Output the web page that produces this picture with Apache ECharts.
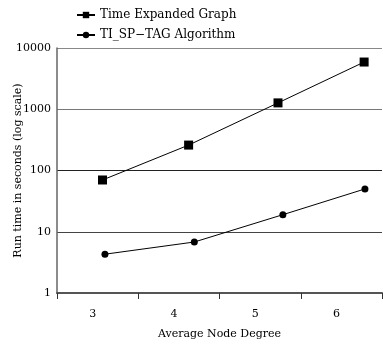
<!DOCTYPE html>
<html><head><meta charset="utf-8">
<script src="https://cdn.jsdelivr.net/npm/echarts@6/dist/echarts.min.js"></script>
<style>html,body{margin:0;padding:0;background:#fff}#c{width:383px;height:347px}</style>
</head><body><div id="c"></div>
<script>
const categories = ['3', '4', '5', '6'];
const teX = [3.06, 4.12, 5.22, 6.28];
const teY = [70, 260, 1270, 5900];
const tagX = [3.09, 4.19, 5.28, 6.29];
const tagY = [4.3, 6.8, 19, 50];
const yTicks = [1, 10, 100, 1000, 10000];
const seriesNames = ['Time Expanded Graph', 'TI_SP\u2212TAG Algorithm'];

const font = 'DejaVu Serif';
const chart = echarts.init(document.getElementById('c'));
chart.setOption({
  animation: false,
  textStyle: { fontFamily: font },
  legend: {
    orient: 'vertical', left: 71, top: 4, itemGap: 8, itemWidth: 18, itemHeight: 8,
    textStyle: { fontFamily: font, fontSize: 12, color: '#000' },
    data: seriesNames.map(n => ({ name: n }))
  },
  grid: { left: 57, right: 1, top: 48, bottom: 54, containLabel: false, outerBoundsMode: 'none' },
  xAxis: [{
    type: 'value', min: 2.5, max: 6.5, interval: 1,
    axisLine: { lineStyle: { color: '#555', width: 2 } },
    axisTick: { show: true, length: 6, lineStyle: { color: '#333' } },
    axisLabel: { show: false }, splitLine: { show: false }
  }, {
    type: 'category', data: categories, position: 'bottom', boundaryGap: true,
    axisLine: { show: false }, axisTick: { show: false },
    axisLabel: { margin: 16, fontFamily: font, fontSize: 11, color: '#000', padding: [0, 10, 0, 0] },
    name: 'Average Node Degree', nameLocation: 'middle', nameGap: 36, nameMoveOverlap: false,
    nameTextStyle: { fontFamily: font, fontSize: 11, color: '#000' }
  }],
  yAxis: {
    type: 'log', logBase: 10, min: yTicks[0], max: yTicks[yTicks.length - 1],
    axisLine: { show: true, lineStyle: { color: '#666', width: 1.5 } },
    axisTick: { show: false },
    axisLabel: { margin: 6, fontFamily: font, fontSize: 11, color: '#000', formatter: v => String(Math.round(v)) },
    splitLine: { show: true, lineStyle: { color: ['#444', '#444', '#222', '#777', '#888'], width: 1.2 } },
    name: 'Run time in seconds (log scale)', nameLocation: 'middle', nameGap: 33, nameMoveOverlap: false,
    nameTextStyle: { fontFamily: font, fontSize: 11, color: '#000' }
  },
  series: [{
    name: seriesNames[0], type: 'line', xAxisIndex: 0,
    data: teX.map((x, i) => [x, teY[i]]),
    symbol: 'rect', symbolSize: 9,
    lineStyle: { color: '#000', width: 1 }, itemStyle: { color: '#000' }
  }, {
    name: seriesNames[1], type: 'line', xAxisIndex: 0,
    data: tagX.map((x, i) => [x, tagY[i]]),
    symbol: 'circle', symbolSize: 7,
    lineStyle: { color: '#000', width: 1 }, itemStyle: { color: '#000' }
  }]
});
</script></body></html>
